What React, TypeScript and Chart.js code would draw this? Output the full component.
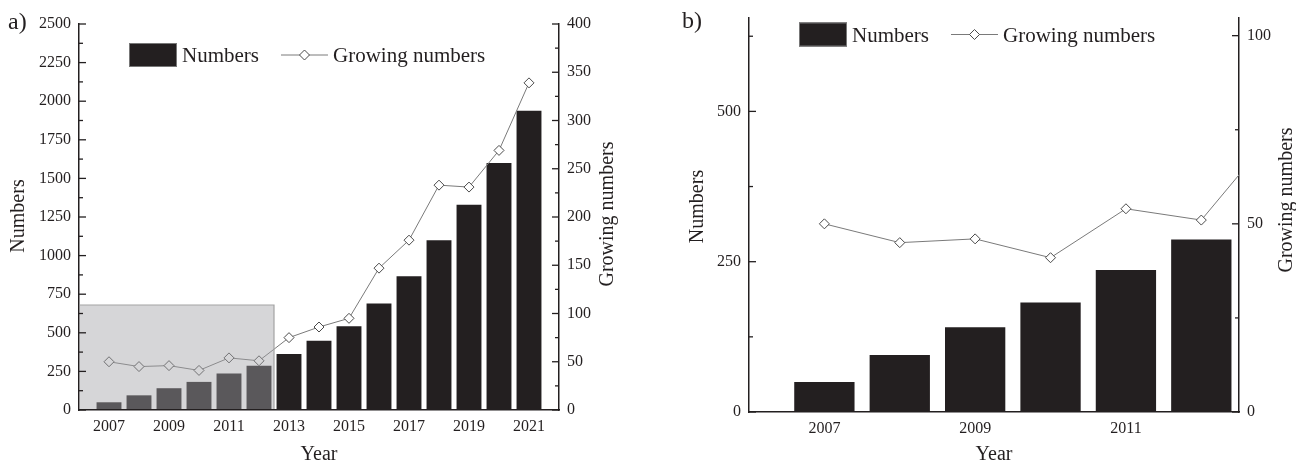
import React, { useEffect, useRef } from 'react';
import { Chart, registerables } from 'chart.js';

Chart.register(...registerables);

// ---------- data ----------
const years = [2007, 2008, 2009, 2010, 2011, 2012, 2013, 2014, 2015, 2016, 2017, 2018, 2019, 2020, 2021];
const numbers = [50, 95, 141, 182, 236, 287, 362, 448, 543, 690, 866, 1099, 1330, 1599, 1938];
const growingNumbers = [50, 45, 46, 41, 54, 51, 75, 86, 95, 147, 176, 233, 231, 269, 339];

const yearTicksA = [2007, 2009, 2011, 2013, 2015, 2017, 2019, 2021];
const numberTicksA = [0, 250, 500, 750, 1000, 1250, 1500, 1750, 2000, 2250, 2500];
const numberMinorA = [125, 375, 625, 875, 1125, 1375, 1625, 1875, 2125, 2375];
const growingTicksA = [0, 50, 100, 150, 200, 250, 300, 350, 400];
const growingMinorA = [25, 75, 125, 175, 225, 275, 325, 375];

const zoomBarCount = 6; // bars 2007-2012
const zoomLineCount = 7; // line continues to 2013 and is clipped
const yearTicksB = [2007, 2009, 2011];
const numberTicksB = [0, 250, 500];
const numberMinorB = [125, 375, 625];
const growingTicksB = [0, 50, 100];
const growingMinorB = [25, 75];

const highlightYears = [2006, 2012.5];
const highlightTop = 680;

// ---------- style ----------
const FONT = "'Liberation Serif', 'Times New Roman', Times, serif";
const INK = '#231f20';

type TickSpec = { id: string; major: number[]; minor: number[] };

function inwardTicksPlugin(specs: TickSpec[]) {
  return {
    id: 'inwardTicks',
    afterDraw(chart: any) {
      const ctx = chart.ctx;
      ctx.save();
      ctx.strokeStyle = INK;
      ctx.lineWidth = 1.3;
      for (const spec of specs) {
        const s = chart.scales[spec.id];
        const isLeft = s.position === 'left';
        const x0 = isLeft ? s.right : s.left;
        const dir = isLeft ? 1 : -1;
        const draw = (v: number, len: number) => {
          const y = s.getPixelForValue(v);
          ctx.beginPath();
          ctx.moveTo(x0, y);
          ctx.lineTo(x0 + dir * len, y);
          ctx.stroke();
        };
        spec.major.forEach((v) => draw(v, 7));
        spec.minor.forEach((v) => draw(v, 4));
      }
      ctx.restore();
    },
  };
}

function axisTitlesPlugin(items: { text: string; x: number; y: number }[]) {
  return {
    id: 'axisTitles',
    afterDraw(chart: any) {
      const ctx = chart.ctx;
      ctx.save();
      ctx.font = `20px ${FONT}`;
      ctx.fillStyle = INK;
      ctx.textAlign = 'center';
      ctx.textBaseline = 'middle';
      for (const it of items) {
        ctx.save();
        ctx.translate(it.x, it.y);
        ctx.rotate(-Math.PI / 2);
        ctx.fillText(it.text, 0, 0);
        ctx.restore();
      }
      ctx.restore();
    },
  };
}

function legendPlugin(yCenter: number, size: number) {
  return {
    id: 'customLegend',
    afterDraw(chart: any) {
      const { ctx, chartArea } = chart;
      const barLabel = chart.data.datasets[1].label;
      const lineLabel = chart.data.datasets[0].label;
      ctx.save();
      ctx.font = `${size}px ${FONT}`;
      ctx.textBaseline = 'alphabetic';
      let x = chartArea.left + 50;
      ctx.fillStyle = INK;
      ctx.fillRect(x, yCenter - 12, 48, 24);
      ctx.strokeStyle = '#777';
      ctx.lineWidth = 1;
      ctx.strokeRect(x + 0.5, yCenter - 11.5, 47, 23);
      x += 53;
      ctx.fillStyle = INK;
      ctx.fillText(barLabel, x, yCenter + 7);
      x += ctx.measureText(barLabel).width + 22;
      ctx.strokeStyle = '#7a7a7a';
      ctx.beginPath();
      ctx.moveTo(x, yCenter);
      ctx.lineTo(x + 47, yCenter);
      ctx.stroke();
      const cx = x + 23.5;
      ctx.beginPath();
      ctx.moveTo(cx, yCenter - 5);
      ctx.lineTo(cx + 5, yCenter);
      ctx.lineTo(cx, yCenter + 5);
      ctx.lineTo(cx - 5, yCenter);
      ctx.closePath();
      ctx.fillStyle = '#fff';
      ctx.fill();
      ctx.strokeStyle = '#4a4a4a';
      ctx.stroke();
      x += 52;
      ctx.fillStyle = INK;
      ctx.fillText(lineLabel, x, yCenter + 7);
      ctx.restore();
    },
  };
}

function letterPlugin(text: string, x: number, y: number) {
  return {
    id: 'panelLetter',
    afterDraw(chart: any) {
      const ctx = chart.ctx;
      ctx.save();
      ctx.font = `24px ${FONT}`;
      ctx.fillStyle = INK;
      ctx.textBaseline = 'alphabetic';
      ctx.fillText(text, x, y);
      ctx.restore();
    },
  };
}

const highlightPlugin = {
  id: 'highlight',
  afterDatasetsDraw(chart: any) {
    const { ctx, scales } = chart;
    const x0 = scales.x.getPixelForValue(highlightYears[0]) + 1;
    const x1 = scales.x.getPixelForValue(highlightYears[1]);
    const y0 = scales.y.getPixelForValue(0) - 1;
    const y1 = scales.y.getPixelForValue(highlightTop);
    ctx.save();
    ctx.fillStyle = 'rgba(161,162,166,0.44)';
    ctx.fillRect(x0, y1, x1 - x0, y0 - y1);
    ctx.strokeStyle = '#a3a3a3';
    ctx.lineWidth = 1.2;
    ctx.beginPath();
    ctx.moveTo(x0, y1);
    ctx.lineTo(x1, y1);
    ctx.lineTo(x1, y0);
    ctx.stroke();
    ctx.restore();
  },
};

type Params = {
  barYears: number[];
  barValues: number[];
  lineYears: number[];
  lineValues: number[];
  xMin: number;
  xMax: number;
  xTicks: number[];
  yMax: number;
  yTicks: number[];
  yMinor: number[];
  y2Max: number;
  y2Ticks: number[];
  y2Minor: number[];
  barPct: number;
  top: number;
  yWidth: number;
  y2Width: number;
  xHeight: number;
  yTitle: [number, number];
  y2Title: [number, number];
  legendY: number;
  letter: string;
  letterX: number;
  letterY: number;
  highlight: boolean;
};

const tickFont = { family: FONT, size: 16 };
const titleFont = { family: FONT, size: 20, lineHeight: 1 };

function buildConfig(p: Params): any {
  const barLabel = 'Numbers';
  const lineLabel = 'Growing numbers';
  const plugins: any[] = [];
  if (p.highlight) plugins.push(highlightPlugin);
  plugins.push(
    inwardTicksPlugin([
      { id: 'y', major: p.yTicks, minor: p.yMinor },
      { id: 'y2', major: p.y2Ticks, minor: p.y2Minor },
    ])
  );
  plugins.push(
    axisTitlesPlugin([
      { text: barLabel, x: p.yTitle[0], y: p.yTitle[1] },
      { text: lineLabel, x: p.y2Title[0], y: p.y2Title[1] },
    ])
  );
  plugins.push(legendPlugin(p.legendY, 21));
  plugins.push(letterPlugin(p.letter, p.letterX, p.letterY));
  return {
    type: 'bar',
    data: {
      datasets: [
        {
          type: 'line',
          label: lineLabel,
          data: p.lineYears.map((x, i) => ({ x, y: p.lineValues[i] })),
          yAxisID: 'y2',
          xAxisID: 'x',
          borderColor: '#7a7a7a',
          borderWidth: 1,
          pointStyle: 'rectRot',
          pointRadius: 5,
          pointBackgroundColor: '#ffffff',
          pointBorderColor: '#4a4a4a',
          pointBorderWidth: 1,
          tension: 0,
          order: 0,
        },
        {
          type: 'bar',
          label: barLabel,
          data: p.barYears.map((x, i) => ({ x, y: p.barValues[i] })),
          yAxisID: 'y',
          xAxisID: 'x',
          backgroundColor: INK,
          borderWidth: 0,
          barPercentage: p.barPct,
          categoryPercentage: 1,
          order: 1,
        },
      ],
    },
    options: {
      responsive: false,
      animation: false,
      events: [],
      layout: { padding: { top: p.top, left: 0, right: 0, bottom: 0 } },
      plugins: { legend: { display: false }, tooltip: { enabled: false } },
      scales: {
        x: {
          type: 'linear',
          position: 'bottom',
          min: p.xMin,
          max: p.xMax,
          offset: false,
          grid: { display: false, drawTicks: false, offset: false },
          border: { color: INK, width: 1.5 },
          afterBuildTicks: (s: any) => {
            s.ticks = p.xTicks.map((value) => ({ value }));
          },
          afterFit: (s: any) => {
            s.height = p.xHeight;
          },
          ticks: {
            font: tickFont,
            color: INK,
            padding: 7,
            autoSkip: false,
            maxRotation: 0,
            callback: (v: any) => String(v),
          },
          title: { display: true, text: 'Year', font: titleFont, color: INK, padding: { top: 0, bottom: 0 } },
        },
        y: {
          type: 'linear',
          position: 'left',
          min: 0,
          max: p.yMax,
          grid: { display: false, drawTicks: false },
          border: { color: INK, width: 1.5 },
          afterBuildTicks: (s: any) => {
            s.ticks = p.yTicks.map((value) => ({ value }));
          },
          afterFit: (s: any) => {
            s.width = p.yWidth;
          },
          ticks: { font: tickFont, color: INK, padding: 8, callback: (v: any) => String(v) },
          title: { display: false },
        },
        y2: {
          type: 'linear',
          position: 'right',
          min: 0,
          max: p.y2Max,
          grid: { display: false, drawTicks: false },
          border: { color: INK, width: 1.5 },
          afterBuildTicks: (s: any) => {
            s.ticks = p.y2Ticks.map((value) => ({ value }));
          },
          afterFit: (s: any) => {
            s.width = p.y2Width;
          },
          ticks: { font: tickFont, color: INK, padding: 8, callback: (v: any) => String(v) },
          title: { display: false },
        },
      },
    },
    plugins,
  };
}

const paramsA: Params = {
  barYears: years,
  barValues: numbers,
  lineYears: years,
  lineValues: growingNumbers,
  xMin: 2006,
  xMax: 2022,
  xTicks: yearTicksA,
  yMax: 2500,
  yTicks: numberTicksA,
  yMinor: numberMinorA,
  y2Max: 400,
  y2Ticks: growingTicksA,
  y2Minor: growingMinorA,
  barPct: 0.83,
  top: 24,
  yWidth: 79,
  y2Width: 81,
  xHeight: 55,
  yTitle: [19, 216],
  y2Title: [608, 214],
  legendY: 55,
  letter: 'a)',
  letterX: 8,
  letterY: 29,
  highlight: true,
};

const paramsB: Params = {
  barYears: years.slice(0, zoomBarCount),
  barValues: numbers.slice(0, zoomBarCount),
  lineYears: years.slice(0, zoomLineCount),
  lineValues: growingNumbers.slice(0, zoomLineCount),
  xMin: 2006,
  xMax: 2012.5,
  xTicks: yearTicksB,
  yMax: 656,
  yTicks: numberTicksB,
  yMinor: numberMinorB,
  y2Max: 104.8,
  y2Ticks: growingTicksB,
  y2Minor: growingMinorB,
  barPct: 0.8,
  top: 16,
  yWidth: 109,
  y2Width: 57,
  xHeight: 53,
  yTitle: [58, 206.5],
  y2Title: [647, 200],
  legendY: 34.5,
  letter: 'b)',
  letterX: 42,
  letterY: 28,
  highlight: false,
};

function ChartCanvas({ params, width, height, left }: { params: Params; width: number; height: number; left: number }) {
  const ref = useRef<HTMLCanvasElement | null>(null);
  useEffect(() => {
    if (!ref.current) return;
    const chart = new Chart(ref.current, buildConfig(params));
    return () => chart.destroy();
  }, [params]);
  return (
    <canvas
      ref={ref}
      width={width}
      height={height}
      style={{ position: 'absolute', left, top: 0, width, height, display: 'block' }}
    />
  );
}

export default function App() {
  return (
    <div
      style={{
        position: 'absolute',
        left: 0,
        top: 0,
        width: 1296,
        height: 465,
        overflow: 'hidden',
        background: '#ffffff',
      }}
    >
      <ChartCanvas params={paramsA} width={640} height={465} left={0} />
      <ChartCanvas params={paramsB} width={656} height={465} left={640} />
    </div>
  );
}
